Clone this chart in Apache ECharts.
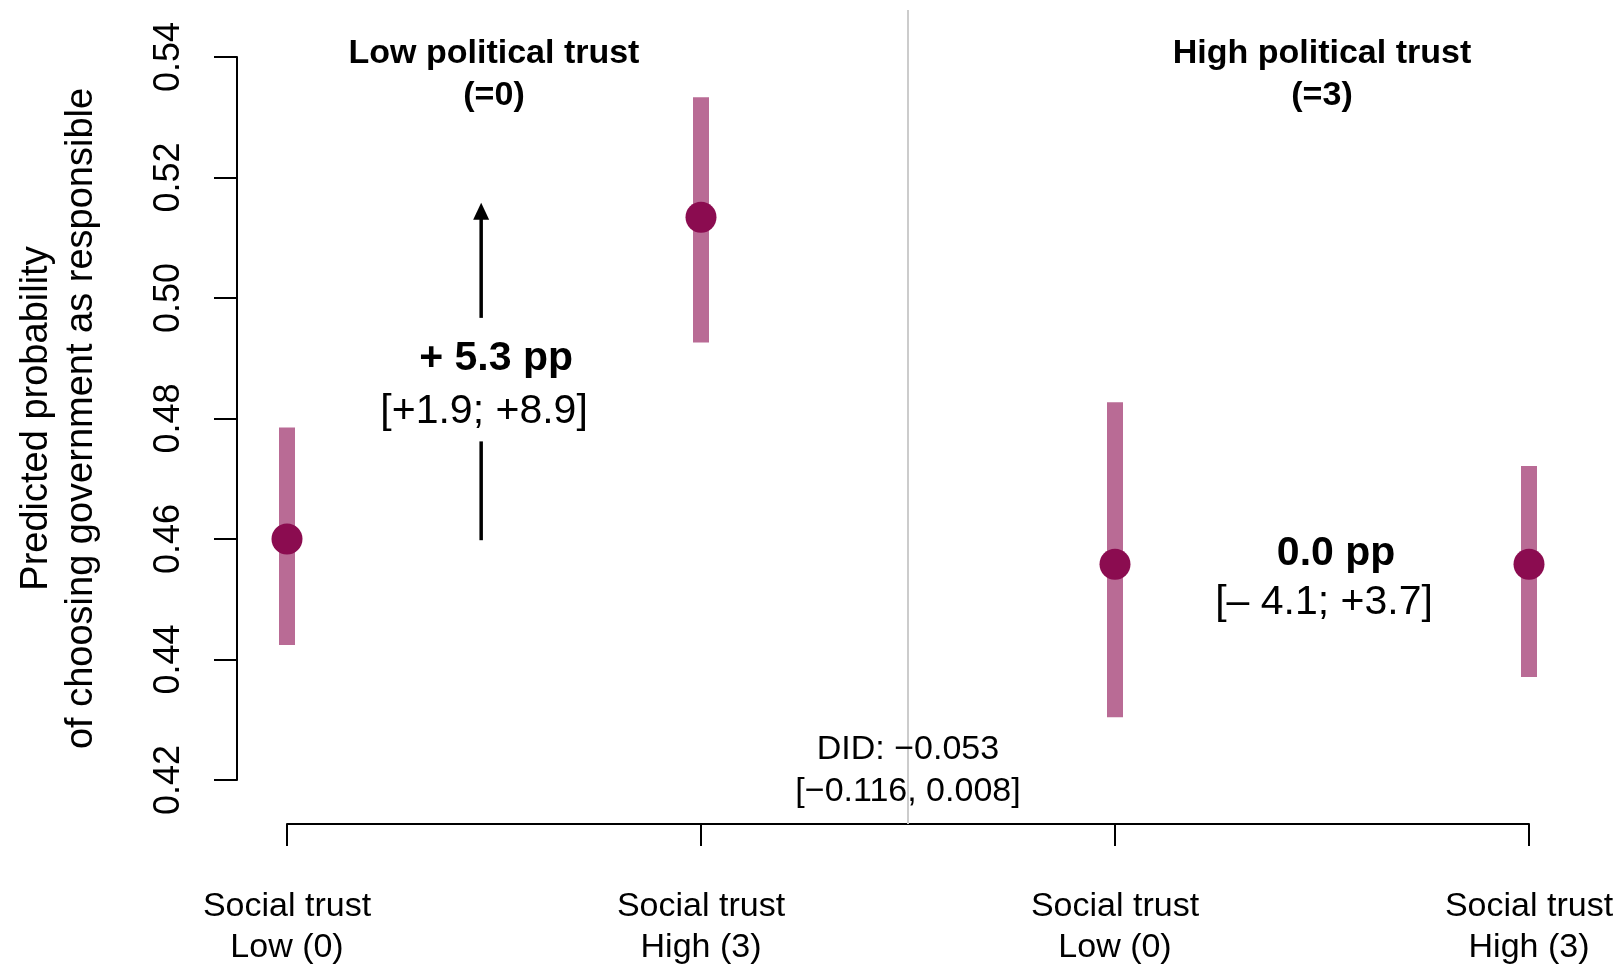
<!DOCTYPE html>
<html>
<head>
<meta charset="utf-8">
<script src="https://cdn.jsdelivr.net/npm/echarts@6/dist/echarts.min.js"></script>
<style>
	html, body { margin: 0; padding: 0; background: #fff; }
	#chart { width: 1623px; height: 968px; }
</style>
</head>
<body>
<div id="chart"></div>
<script>
// positions 0..3 on the x axis
const categories = ['Social trust\nLow (0)', 'Social trust\nHigh (3)', 'Social trust\nLow (0)', 'Social trust\nHigh (3)'];
const estimates = [0.4600, 0.5134, 0.4558, 0.4558];
const lower = [0.4424, 0.4926, 0.4304, 0.4371];
const upper = [0.4785, 0.5333, 0.4827, 0.4721];
const yTicks = ['0.42', '0.44', '0.46', '0.48', '0.50', '0.52', '0.54'];

const panelTitles = ['Low political trust\n(=0)', 'High political trust\n(=3)'];
const effectLabels = ['+ 5.3 pp', '0.0 pp'];
const effectCIs = ['[+1.9; +8.9]', '[\u2013 4.1; +3.7]'];
const didLabel = 'DID: \u22120.053\n[\u22120.116, 0.008]';

// arrow in the low-trust panel: from, gap start, gap end, tip
const arrowX = 0.469;
const arrowY = [0.4598, 0.4762, 0.4967, 0.5158];

const FONT = '"Liberation Sans", Arial, sans-serif';
const BAR = '#b96b95';
const DOT = '#8b0c50';

const chart = echarts.init(document.getElementById('chart'), null, { renderer: 'canvas' });

function textPoint(x, y, text, size, weight, lh) {
	return {
		value: [x, y],
		label: {
			show: true,
			position: 'inside',
			formatter: text,
			fontFamily: FONT,
			fontSize: size,
			fontWeight: weight,
			lineHeight: lh,
			color: '#000',
			textBorderWidth: 0,
			align: 'center',
			verticalAlign: 'middle',
		},
	};
}

const annotations = [
	textPoint(0.5, 0.5371, panelTitles[0], 34, 'bold', 42),
	textPoint(2.5, 0.5371, panelTitles[1], 34, 'bold', 42),
	textPoint(0.505, 0.4899, effectLabels[0], 41, 'bold', 46),
	textPoint(0.476, 0.4812, effectCIs[0], 41, 'normal', 46),
	textPoint(2.534, 0.4575, effectLabels[1], 41, 'bold', 46),
	textPoint(2.505, 0.4494, effectCIs[1], 41, 'normal', 46),
	textPoint(1.5, 0.4216, didLabel, 34, 'normal', 42),
];

const option = {
	animation: false,
	backgroundColor: '#fff',
	grid: { left: 287, right: 94, top: 57, bottom: 187, containLabel: false },
	xAxis: {
		type: 'value',
		min: 0,
		max: 3,
		interval: 1,
		offset: 44,
		axisLine: { show: true, onZero: false, lineStyle: { color: '#000', width: 2 } },
		axisTick: { show: true, length: 22, lineStyle: { color: '#000', width: 2 } },
		axisLabel: {
			formatter: (v) => categories[Math.round(v)] || '',
			fontFamily: FONT,
			fontSize: 34,
			lineHeight: 41,
			color: '#000',
			margin: 62,
		},
		splitLine: { show: false },
	},
	yAxis: {
		type: 'value',
		min: 0.42,
		max: 0.54,
		interval: 0.02,
		offset: 50,
		axisLine: { show: true, onZero: false, lineStyle: { color: '#000', width: 2 } },
		axisTick: { show: true, length: 23, lineStyle: { color: '#000', width: 2 } },
		axisLabel: {
			rotate: 90,
			formatter: (v) => yTicks[Math.round((v - 0.42) / 0.02)] || '',
			fontFamily: FONT,
			fontSize: 36,
			color: '#000',
			margin: 50,
		},
		splitLine: { show: false },
		name: 'Predicted probability\nof choosing government as responsible',
		nameLocation: 'middle',
		nameRotate: 90,
		nameGap: 133,
		nameTextStyle: { fontFamily: FONT, fontSize: 38, lineHeight: 45, color: '#000' },
	},
	series: [
		{
			// panel separator
			type: 'custom',
			clip: false,
			silent: true,
			data: [[1.5]],
			renderItem(params, api) {
				const p = api.coord([api.value(0), 0.48]);
				const cs = params.coordSys;
				return {
					type: 'line',
					shape: { x1: p[0], y1: cs.y - 47, x2: p[0], y2: cs.y + cs.height + 44 },
					style: { stroke: '#cccccc', lineWidth: 2 },
				};
			},
		},
		{
			// confidence intervals
			type: 'custom',
			clip: false,
			data: estimates.map((_, i) => [i, lower[i], upper[i]]),
			renderItem(params, api) {
				const lo = api.coord([api.value(0), api.value(1)]);
				const hi = api.coord([api.value(0), api.value(2)]);
				return {
					type: 'rect',
					shape: { x: lo[0] - 8, y: hi[1], width: 16, height: lo[1] - hi[1] },
					style: { fill: BAR },
				};
			},
		},
		{
			type: 'scatter',
			clip: false,
			symbol: 'circle',
			symbolSize: 31,
			itemStyle: { color: DOT, opacity: 1 },
			data: estimates.map((v, i) => [i, v]),
			z: 5,
		},
		{
			// arrow
			type: 'custom',
			clip: false,
			silent: true,
			data: [[arrowX].concat(arrowY)],
			renderItem(params, api) {
				const x = api.value(0);
				const a = api.coord([x, api.value(1)]);
				const b = api.coord([x, api.value(2)]);
				const c = api.coord([x, api.value(3)]);
				const d = api.coord([x, api.value(4)]);
				const st = { stroke: '#000', lineWidth: 3.5 };
				return {
					type: 'group',
					children: [
						{ type: 'line', shape: { x1: a[0], y1: a[1], x2: b[0], y2: b[1] }, style: st },
						{ type: 'line', shape: { x1: c[0], y1: c[1], x2: d[0], y2: d[1] + 12 }, style: st },
						{
							type: 'polygon',
							shape: { points: [[d[0], d[1]], [d[0] - 8, d[1] + 17], [d[0] + 8, d[1] + 17]] },
							style: { fill: '#000' },
						},
					],
				};
			},
		},
		{
			type: 'scatter',
			clip: false,
			silent: true,
			symbolSize: 0,
			itemStyle: { opacity: 1 },
			data: annotations,
			z: 6,
		},
	],
};

chart.setOption(option);
</script>
</body>
</html>
